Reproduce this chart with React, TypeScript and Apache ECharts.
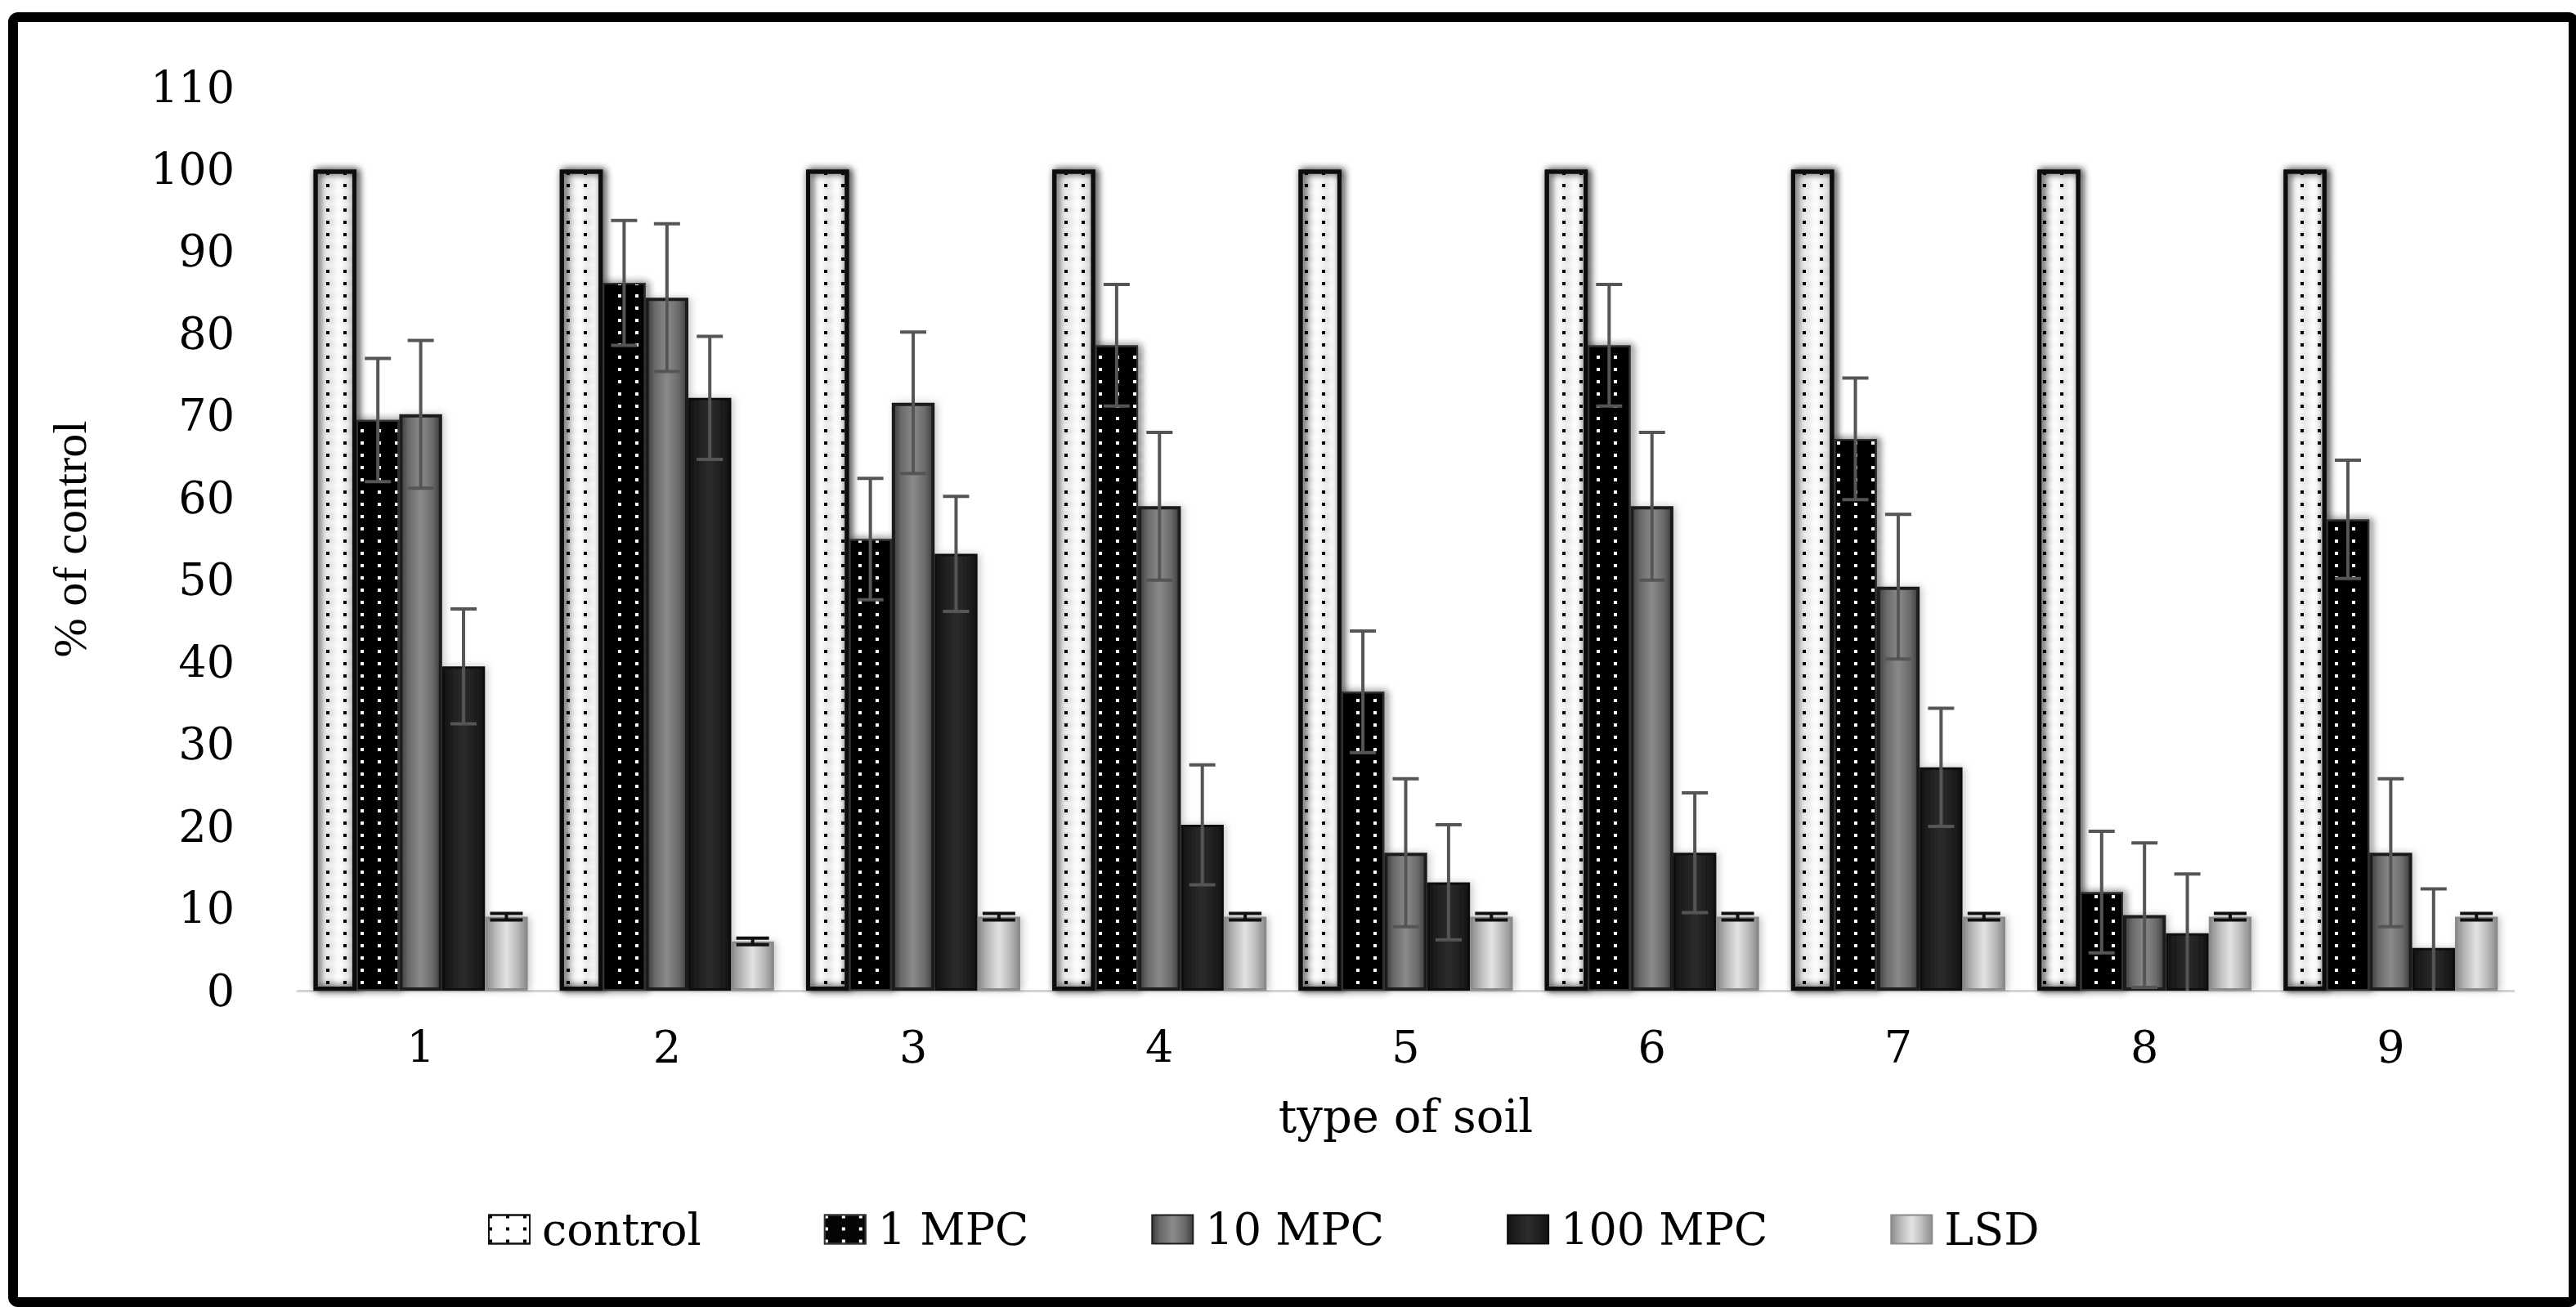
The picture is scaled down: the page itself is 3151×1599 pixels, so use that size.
import React, { useEffect, useRef } from "react";
import * as echarts from "echarts";

// ---- data ----
const categories = ["1", "2", "3", "4", "5", "6", "7", "8", "9"];
const seriesNames = ["control", "1 MPC", "10 MPC", "100 MPC", "LSD"];
const controlValues = [100, 100, 100, 100, 100, 100, 100, 100, 100];
const mpc1Values = [69.5, 86.2, 55, 78.6, 36.4, 78.6, 67.2, 12, 57.4];
const mpc10Values = [70.2, 84.4, 71.6, 59, 16.8, 59, 49.2, 9.2, 16.8];
const mpc100Values = [39.5, 72.2, 53.2, 20.2, 13.2, 16.8, 27.2, 7, 5.2];
const lsdValues = [9, 6, 9, 9, 9, 9, 9, 9, 9];
const mpc1Errors = [7.5, 7.6, 7.4, 7.4, 7.4, 7.4, 7.4, 7.4, 7.2];
const mpc10Errors = [9, 9, 8.6, 9, 9, 9, 8.8, 8.8, 9];
const mpc100Errors = [7, 7.5, 7, 7.3, 7, 7.3, 7.2, 7.2, 7.2];
const lsdErrors = [0.4, 0.4, 0.4, 0.4, 0.4, 0.4, 0.4, 0.4, 0.4];
const yMin = 0;
const yMax = 110;
const yStep = 10;

const BAR_CAT_GAP = 0.13;
const N_BARS = 5;
const FONT = "'DejaVu Serif', 'Liberation Serif', serif";

export default function App() {
  const ref = useRef<HTMLDivElement>(null);

  useEffect(() => {
    if (!ref.current) return;
    const chart = echarts.init(ref.current, null, { renderer: "svg" });

    const grad = (stops: [number, string][]) => ({
      type: "linear",
      x: 0,
      y: 0,
      x2: 1,
      y2: 0,
      colorStops: stops.map(([offset, color]) => ({ offset, color })),
    });

    const shadow = {
      shadowBlur: 10,
      shadowColor: "rgba(0,0,0,0.22)",
      shadowOffsetX: 3,
      shadowOffsetY: 0,
    };

    const valueSets = [controlValues, mpc1Values, mpc10Values, mpc100Values, lsdValues];
    const errorSets: (number[] | null)[] = [null, mpc1Errors, mpc10Errors, mpc100Errors, lsdErrors];

    const itemStyles: any[] = [
      {
        color: "#ffffff",
        borderColor: "#111111",
        borderWidth: 5,
        decal: {
          symbol: "rect",
          symbolSize: 1,
          color: "#000000",
          dashArrayX: [4, 17],
          dashArrayY: [4, 11],
          rotation: 0,
        },
        ...shadow,
      },
      {
        color: "#050505",
        borderColor: "#333333",
        borderWidth: 2,
        decal: {
          symbol: "rect",
          symbolSize: 1,
          color: "#ffffff",
          dashArrayX: [4, 17],
          dashArrayY: [4, 11],
          rotation: 0,
        },
        ...shadow,
      },
      {
        color: grad([
          [0, "#3c3c3c"],
          [0.2, "#6a6a6a"],
          [0.5, "#8a8a8a"],
          [0.8, "#6a6a6a"],
          [1, "#3c3c3c"],
        ]),
        borderColor: "#1e1e1e",
        borderWidth: 4,
        ...shadow,
      },
      {
        color: grad([
          [0, "#141414"],
          [0.5, "#2c2c2c"],
          [1, "#141414"],
        ]),
        borderColor: "#0e0e0e",
        borderWidth: 3,
        ...shadow,
      },
      {
        color: grad([
          [0, "#8c8c8c"],
          [0.25, "#bdbdbd"],
          [0.5, "#e2e2e2"],
          [0.75, "#bdbdbd"],
          [1, "#8c8c8c"],
        ]),
        borderColor: "#8a8a8a",
        borderWidth: 3,
        ...shadow,
      },
    ];

    const barSeries = seriesNames.map((name, i) => ({
      name,
      type: "bar",
      data: valueSets[i],
      barGap: "0%",
      barCategoryGap: BAR_CAT_GAP * 100 + "%",
      itemStyle: itemStyles[i],
      emphasis: { disabled: true },
      z: 2,
    }));

    const errorData: number[][] = [];
    errorSets.forEach((errs, pos) => {
      if (!errs) return;
      errs.forEach((e, ci) => {
        const v = valueSets[pos][ci];
        errorData.push([ci, v + e, v - e, pos]);
      });
    });

    const errorSeries = {
      type: "custom",
      name: "errors",
      data: errorData,
      encode: { x: 0, y: [1, 2] },
      z: 10,
      clip: true,
      silent: true,
      renderItem: (params: any, api: any) => {
        const ci = api.value(0);
        const hi = api.value(1);
        const lo = api.value(2);
        const pos = api.value(3);
        const bandW = api.size([1, 0])[0];
        const groupW = bandW * (1 - BAR_CAT_GAP);
        const barW = groupW / N_BARS;
        const center = api.coord([ci, 0])[0];
        const x = center - groupW / 2 + barW * (pos + 0.5);
        const yHi = api.coord([ci, hi])[1];
        const yLo = api.coord([ci, lo])[1];
        const isLsd = pos === 4;
        const half = isLsd ? 20 : 16;
        const stroke = isLsd ? "#111111" : "#555555";
        const style = { stroke, lineWidth: 4 };
        return {
          type: "group",
          children: [
            { type: "line", shape: { x1: x, y1: yHi, x2: x, y2: yLo }, style },
            { type: "line", shape: { x1: x - half, y1: yHi, x2: x + half, y2: yHi }, style },
            { type: "line", shape: { x1: x - half, y1: yLo, x2: x + half, y2: yLo }, style },
          ],
        };
      },
    };

    const option: any = {
      animation: false,
      backgroundColor: "#ffffff",
      grid: { left: 364, right: 76, top: 107, bottom: 387, containLabel: false },
      legend: {
        data: seriesNames,
        left: 592,
        top: 1472,
        icon: "rect",
        itemWidth: 50,
        itemHeight: 35,
        itemGap: 150,
        textStyle: {
          fontFamily: FONT,
          fontSize: 54,
          color: "#000",
          padding: [0, 0, 0, 10],
        },
      },
      xAxis: {
        type: "category",
        data: categories,
        name: "type of soil",
        nameLocation: "middle",
        nameGap: 125,
        nameTextStyle: { fontFamily: FONT, fontSize: 56, color: "#000" },
        axisLine: { show: true, lineStyle: { color: "#d4d4d4", width: 3 } },
        axisTick: { show: false },
        axisLabel: { fontFamily: FONT, fontSize: 54, color: "#000", margin: 42 },
        splitLine: { show: false },
      },
      yAxis: {
        type: "value",
        min: yMin,
        max: yMax,
        interval: yStep,
        name: "% of control",
        nameLocation: "middle",
        nameRotate: 90,
        nameGap: 250,
        nameTextStyle: {
          fontFamily: "'Liberation Serif', serif",
          fontSize: 58,
          color: "#000",
        },
        axisLine: { show: false },
        axisTick: { show: false },
        splitLine: { show: false },
        axisLabel: { fontFamily: FONT, fontSize: 54, color: "#000", margin: 77 },
      },
      graphic: [
        {
          type: "rect",
          left: 10,
          top: 15,
          shape: { width: 3132, height: 1572, r: 6 },
          style: { fill: "none", stroke: "#000", lineWidth: 12 },
          silent: true,
          z: 100,
        },
      ],
      series: [...barSeries, errorSeries],
    };

    chart.setOption(option);
    return () => chart.dispose();
  }, []);

  return (
    <div
      ref={ref}
      style={{
        position: "fixed",
        left: 0,
        top: 0,
        width: 3151,
        height: 1599,
        background: "#fff",
      }}
    />
  );
}
